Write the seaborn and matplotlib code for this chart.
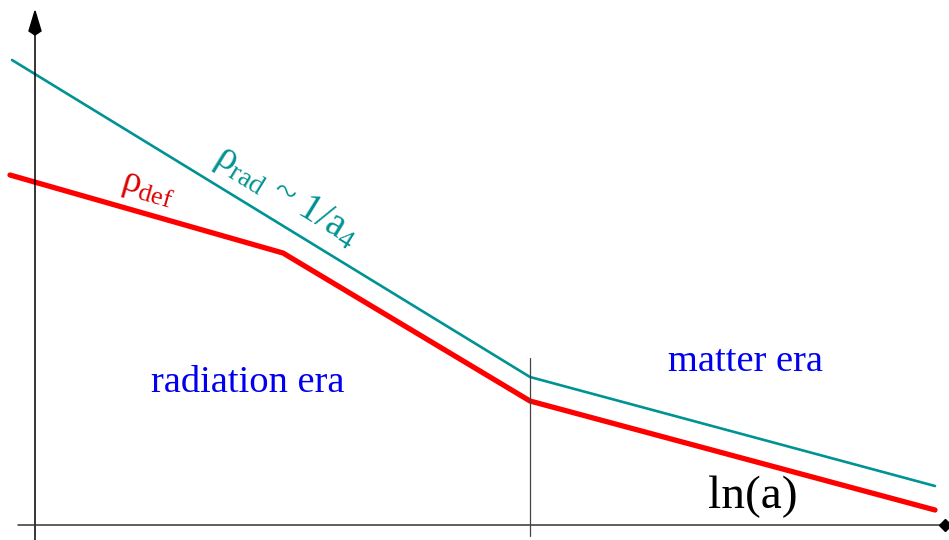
import matplotlib
matplotlib.use("Agg")
import matplotlib.pyplot as plt
import seaborn as sns
import pandas as pd

# data (in picture units: x right, y down)
teal_x = [12, 530, 935]
teal_y = [60, 377, 486]
red_x = [10, 283, 530, 935]
red_y = [175, 253, 401, 510]
era_labels = ["radiation era", "matter era"]
axis_label = "ln(a)"

sns.set_theme(style="white")
plt.rcParams['font.family'] = ['Liberation Serif', 'DejaVu Serif']
plt.rcParams['mathtext.fontset'] = 'custom'
plt.rcParams['mathtext.rm'] = 'Liberation Serif'
plt.rcParams['mathtext.it'] = 'Liberation Serif'

fig = plt.figure(figsize=(9.49, 5.40), dpi=100)
ax = fig.add_axes([0, 0, 1, 1])
ax.set_xlim(0, 949)
ax.set_ylim(540, 0)
ax.axis('off')

teal = "#009393"
red = "#ff0000"

df_t = pd.DataFrame({"x": teal_x, "y": teal_y})
df_r = pd.DataFrame({"x": red_x, "y": red_y})
sns.lineplot(data=df_t, x="x", y="y", sort=False, color=teal, lw=1.9, ax=ax)
sns.lineplot(data=df_r, x="x", y="y", sort=False, color=red, lw=3.8, ax=ax,
             solid_joinstyle='miter')

# axes
ax.plot([35, 35], [540, 30], color="black", lw=1.1)
ax.fill([35, 29, 35, 41], [11, 31, 35, 31], color="black")
ax.plot([18, 945], [525, 525], color="#333333", lw=1.1)
ax.plot([945], [525], marker='D', color="black", ms=6)
ax.plot([530, 530], [358, 536], color="#444444", lw=0.9)

ax.text(248, 383, era_labels[0], color="#0000ee", fontsize=27.7, ha="center", va="center")
ax.text(746, 362, era_labels[1], color="#0000ee", fontsize=27.7, ha="center", va="center")
ax.text(753, 497, axis_label, color="black", fontsize=34, ha="center", va="center")

ax.text(148, 189, r"$\rho_{\rm def}$", color="#dd0000", fontsize=27,
        ha="center", va="center", rotation=-16, rotation_mode="anchor")
ax.text(286, 197, r"$\rho_{\rm rad}$ ~ 1/a$_4$", color=teal, fontsize=28.5,
        ha="center", va="center", rotation=-31.5, rotation_mode="anchor")

fig.savefig("out.png", dpi=100)
